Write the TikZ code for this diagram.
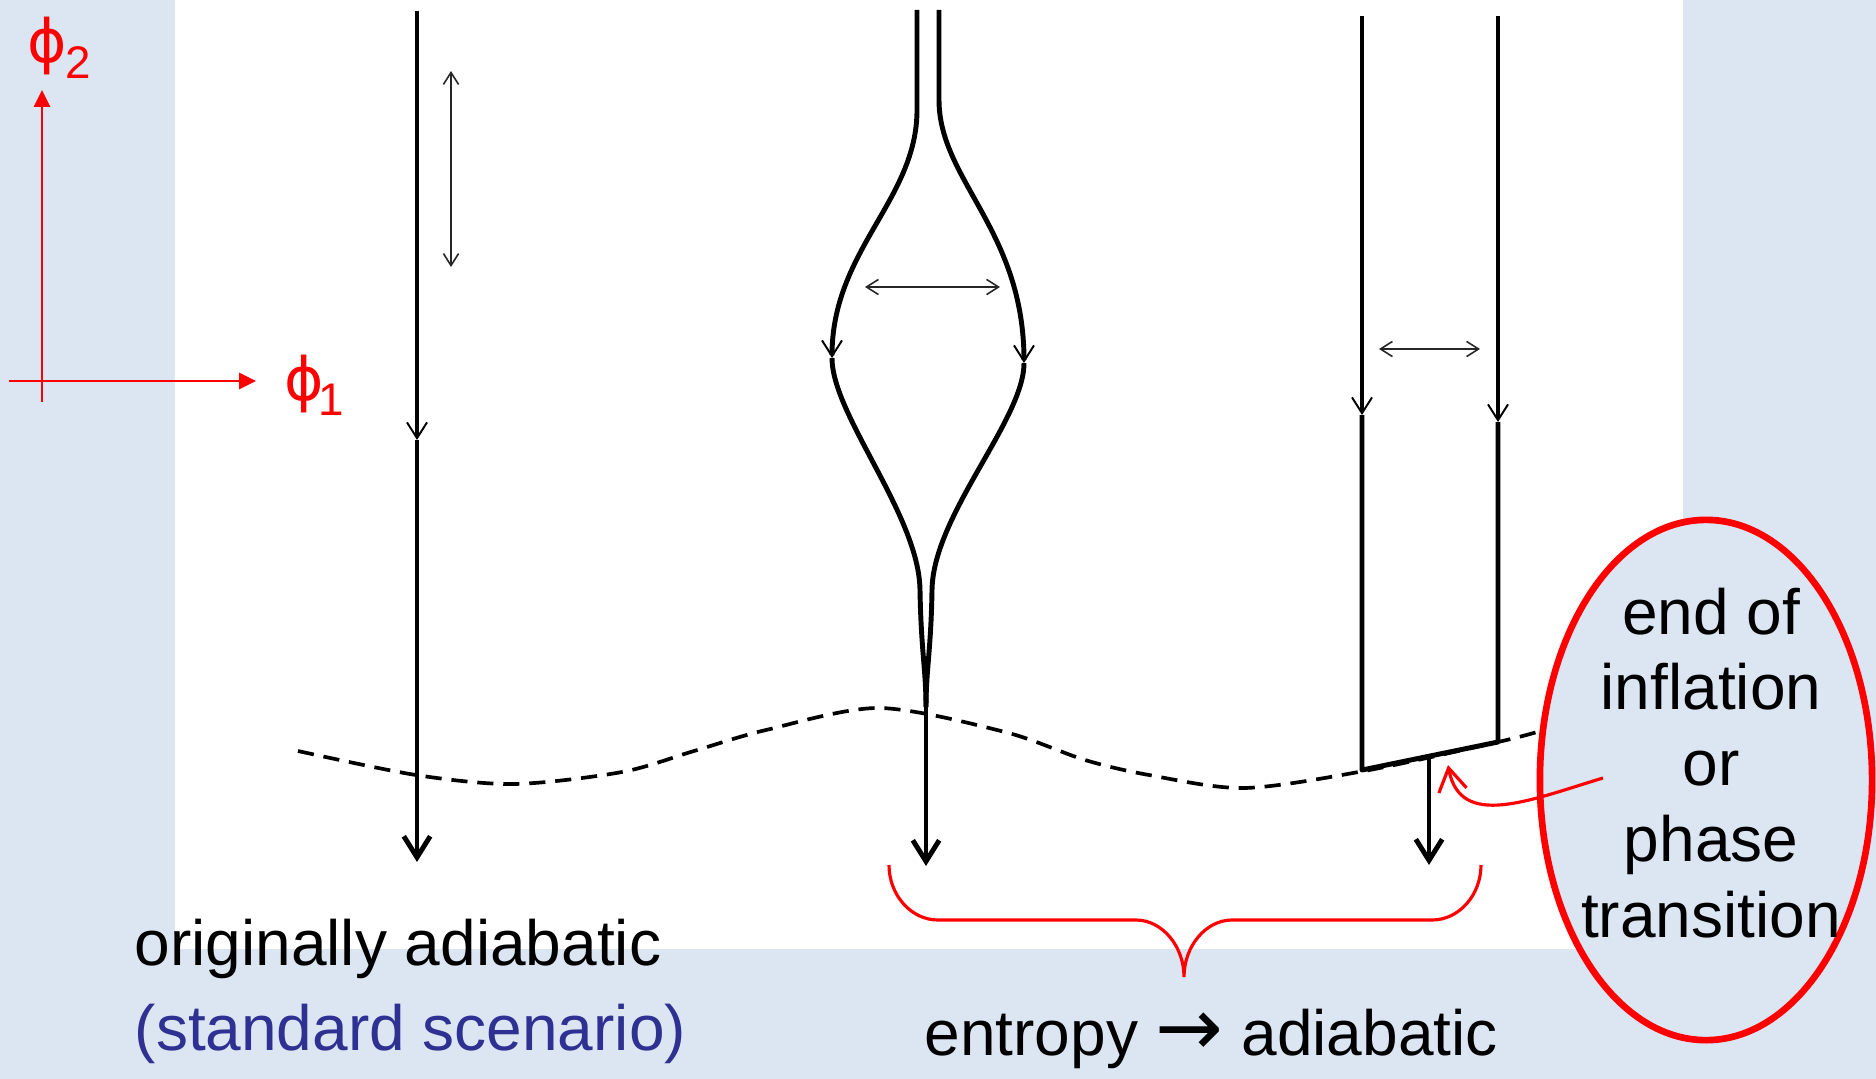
\documentclass[tikz,border=0pt]{standalone}
\usepackage{fontspec}
\setmainfont{Liberation Sans}
\newfontfamily\symfont{DejaVu Sans}
\usetikzlibrary{arrows.meta, shapes.geometric}
\definecolor{slideblue}{RGB}{220,230,242}
\definecolor{navytext}{RGB}{46,49,146}

\begin{document}
\begin{tikzpicture}[
  x=0.01cm, y=-0.01cm,
  %% trajectories
  traj/.style={line width=1.4pt, black},
  bigtip/.style={-{Straight Barb[length=6pt, width=7.5pt]}},
  smalltip/.style={-{Straight Barb[length=4.5pt, width=5.7pt, line width=0.55pt]}},
  spread/.style={{Straight Barb[length=3.4pt, width=4.3pt]}-{Straight Barb[length=3.4pt, width=4.3pt]},
    line width=0.45pt, black!85},
  dashcut/.style={dash pattern=on 4.6pt off 2.8pt, line width=1.05pt},
  %% red annotations
  redaxis/.style={-{Triangle[length=4.8pt, width=4.5pt]}, line width=0.85pt, red},
  rednote/.style={red, line width=0.9pt},
  %% text
  txt/.style={inner sep=0pt, anchor=base west, font=\fontsize{18.2}{21.6}\selectfont}
]

%% ── slide background ─────────────────────────────────────────────────────
\fill[slideblue] (0,0) rectangle (1876,1079);
\fill[white] (175,0) rectangle (1683,949);
\useasboundingbox (0,0) rectangle (1876,1079);

%% ── field axes ───────────────────────────────────────────────────────────
\coordinate (yfoot) at (42,402);
\coordinate (ytip)  at (42,90);
\coordinate (xfoot) at (9,381);
\coordinate (xtip)  at (256,381);
\draw[redaxis] (yfoot) -- (ytip);
\draw[redaxis] (xfoot) -- (xtip);
\node[txt, red] (phitwo) at (27,63)
  {{\symfont\fontsize{17}{17}\selectfont ϕ}\kern-0.5pt\lower4.3pt\hbox{\fontsize{13}{13}\selectfont 2}};
\node[txt, red] (phione) at (284,400)
  {{\symfont\fontsize{17}{17}\selectfont ϕ}\kern-1.5pt\lower4.3pt\hbox{\fontsize{13}{13}\selectfont 1}};

%% ── left: straight adiabatic trajectory ──────────────────────────────────
\coordinate (atop) at (417,11);
\coordinate (amid) at (417,440);
\coordinate (abot) at (417,862);
\draw[traj, smalltip] (atop) -- (amid);
\draw[traj, bigtip]   (amid) -- (abot);
\coordinate (aspanA) at (451,71);
\coordinate (aspanB) at (451,267);
\draw[spread] (aspanA) -- (aspanB);

%% ── middle: trajectories spread and merge again ──────────────────────────
\coordinate (btopl) at (917,10);
\coordinate (btopr) at (939,10);
\coordinate (bmidl) at (832,358);
\coordinate (bmidr) at (1024,363);
\coordinate (bjoin) at (926,707);
\coordinate (bbot)  at (926,866);
\draw[traj, smalltip] (btopl) -- (917,110) .. controls (917,200) and (832,250) .. (bmidl);
\draw[traj, smalltip] (btopr) -- (939,100) .. controls (939,180) and (1024,230) .. (bmidr);
\draw[traj] (bmidl) .. controls (832,415) and (919,515) .. (920,590)
  .. controls (921,650) and (926,670) .. (bjoin);
\draw[traj] (bmidr) .. controls (1024,420) and (933,515) .. (932,590)
  .. controls (931,650) and (926,670) .. (bjoin);
\draw[traj, bigtip] (bjoin) -- (bbot);
\coordinate (bspanA) at (865,287);
\coordinate (bspanB) at (1000,287);
\draw[spread] (bspanA) -- (bspanB);

%% ── right: parallel trajectories cut by the surface ──────────────────────
\coordinate (cltop) at (1362,16);
\coordinate (clmid) at (1362,415);
\coordinate (clbot) at (1362,770);
\coordinate (crtop) at (1498,16);
\coordinate (crmid) at (1498,422);
\coordinate (crbot) at (1498,742);
\draw[traj, smalltip] (cltop) -- (clmid);
\draw[traj, smalltip] (crtop) -- (crmid);
\draw[traj, line join=round] (clmid) -- (clbot) -- (crbot) -- (crmid);
\coordinate (cspanA) at (1379,349);
\coordinate (cspanB) at (1480,349);
\draw[spread] (cspanA) -- (cspanB);
\coordinate (cfoot) at (1429,756);
\coordinate (cbot)  at (1429,865);
\draw[traj, bigtip] (cfoot) -- (cbot);

%% ── surface where the transition happens (dashed) ────────────────────────
\draw[dashcut] plot[smooth, tension=0.5] coordinates {
  (298,751) (416,775) (514,784) (622,772) (694,751) (766,730) (879,708)
  (1005,732) (1085,760) (1149,775) (1244,788) (1364,771) (1498,742) (1537,732)};

%% ── note on the right ────────────────────────────────────────────────────
\node[ellipse, draw=red, line width=1.9pt, fill=slideblue, inner sep=0pt,
  minimum width=3.32cm, minimum height=5.20cm] (endbox) at (1706,780) {};
\node[inner sep=0pt, anchor=north, align=center,
  font=\fontsize{18.2}{21.55}\selectfont] (endtext) at (1711,587)
  {end of\\inflation\\or\\phase\\transition};
\coordinate (notefoot) at (1603,778);
\coordinate (notetip)  at (1448,765);
\draw[rednote, -{Straight Barb[length=6.5pt, width=8pt]}]
  (notefoot) .. controls (1530,800) and (1460,830) .. (notetip);

%% brace under the two right cases
\draw[rednote] (889,865) .. controls (889,895) and (911,920) .. (938,920) -- (1136,920)
  .. controls (1162,920) and (1184,946) .. (1184,977)
  .. controls (1184,946) and (1206,920) .. (1232,920) -- (1432,920)
  .. controls (1459,920) and (1481,895) .. (1481,865);

%% ── captions ─────────────────────────────────────────────────────────────
\node[txt] (origcap) at (134,965) {originally adiabatic};
\node[txt, navytext] (stdcap) at (134,1050) {(standard scenario)};
\node[txt] (entcap) at (924,1055)
  {entropy {\symfont\fontsize{23}{23}\selectfont →} adiabatic};

\end{tikzpicture}
\end{document}
